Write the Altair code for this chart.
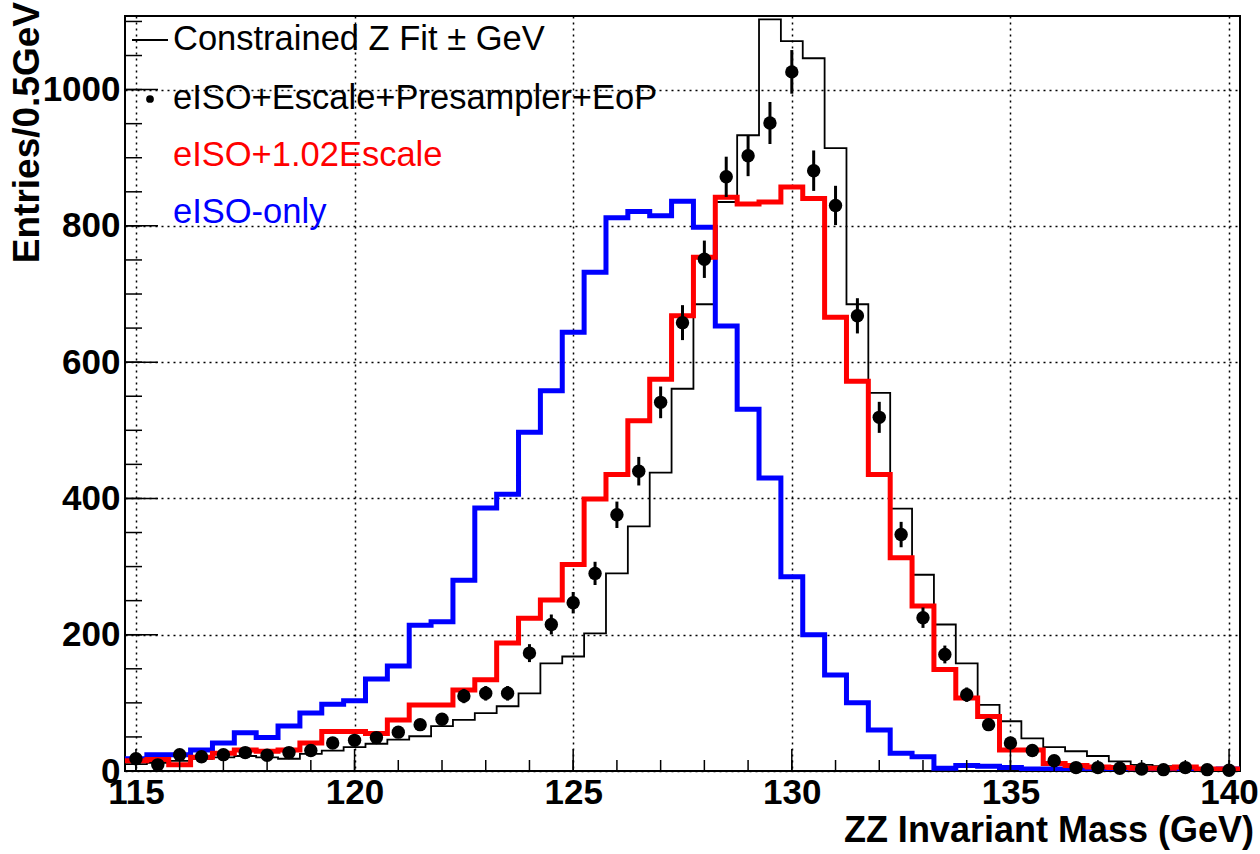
import altair as alt
import pandas as pd

# ---------------- data ----------------
bin_first = 115.0
bin_width = 0.5
n_bins = 51
centers = [bin_first + bin_width * i for i in range(n_bins)]

data_pts = [18, 9, 24, 21, 24, 27, 23, 27, 30, 41,
            45, 49, 57, 68, 76, 110, 114, 114, 173, 215,
            247, 290, 376, 440, 541, 658, 751, 872, 903, 951,
            1026, 881, 830, 668, 519, 347, 225, 171, 112, 68,
            41, 30, 15, 5, 5, 4, 3, 2, 5, 2, 1]

constrained = [10, 12, 15, 18, 20, 22, 20, 18, 25, 30,
               35, 40, 46, 51, 66, 75, 85, 95, 114, 158,
               168, 202, 290, 359, 438, 561, 685, 835, 933, 1103,
               1071, 1046, 914, 685, 555, 385, 288, 215, 158, 97,
               73, 48, 35, 29, 22, 14, 9, 7, 4, 3, 2]

escale102 = [15, 17, 9, 20, 26, 31, 29, 31, 41, 58,
             58, 55, 75, 97, 97, 119, 134, 188, 224, 251,
             303, 399, 435, 514, 575, 668, 754, 842, 832, 835,
             857, 840, 666, 572, 435, 313, 242, 149, 107, 80,
             31, 31, 11, 8, 6, 5, 4, 4, 6, 3, 3]

iso_only = [18, 24, 24, 31, 41, 56, 49, 66, 85, 98,
            103, 135, 154, 214, 219, 280, 386, 406, 497, 558,
            644, 732, 812, 821, 815, 836, 798, 653, 531, 430,
            285, 200, 141, 100, 60, 26, 21, 4, 8, 7,
            5, 3, 3, 2, 2, 2, 2, 2, 2, 2, 3]

legend_labels = ["Constrained Z Fit \u00b1 GeV",
                 "eISO+Escale+Presampler+EoP",
                 "eISO+1.02Escale",
                 "eISO-only"]
legend_colors = ["#000000", "#000000", "#ff0000", "#0000ff"]

x_title = "ZZ Invariant Mass (GeV)"
y_title = "Entries/0.5GeV"

x_major = [115, 120, 125, 130, 135, 140]
x_minor = [115 + i for i in range(26)]
y_major = [0, 200, 400, 600, 800, 1000]
y_minor = [50 * i for i in range(23)]

x_domain = [114.75, 140.25]
y_domain = [0, 1108]

# ---------------- layout ----------------
W, H = 1115, 755
FONT = "Liberation Sans"

def steps(vals):
    xs = [c - bin_width / 2 for c in centers] + [centers[-1] + bin_width / 2]
    ys = list(vals) + [vals[-1]]
    return pd.DataFrame({"x": xs, "y": ys})

xs = alt.Scale(domain=x_domain, nice=False, zero=False)
ys = alt.Scale(domain=y_domain, nice=False)

axis_common = dict(title=None, ticks=False, domain=False,
                   grid=True, gridDash=[2, 4], gridColor="black", gridWidth=1.5,
                   labelFont=FONT, labelFontWeight="bold", labelFontSize=35,
                   labelColor="black", labelFlush=False, labelOverlap=False,
                   format="d")

axis_df = pd.DataFrame({"x": [x_domain[0]], "y": [0]})
base = alt.Chart(axis_df).mark_point(opacity=0).encode(
    x=alt.X("x:Q", scale=xs, axis=alt.Axis(values=x_major, labelPadding=4, **axis_common)),
    y=alt.Y("y:Q", scale=ys, axis=alt.Axis(values=y_major, labelPadding=5, **axis_common)),
)

def hist_layer(vals, color, width):
    return alt.Chart(steps(vals)).mark_line(
        interpolate="step-after", color=color, strokeWidth=width, clip=True
    ).encode(x=alt.X("x:Q", scale=xs), y=alt.Y("y:Q", scale=ys))

black_hist = hist_layer(constrained, "#000000", 1.8)
blue_hist = hist_layer(iso_only, "#0000ff", 5)
red_hist = hist_layer(escale102, "#ff0000", 5)

pts_df = pd.DataFrame({"x": centers, "y": data_pts})
err = alt.Chart(pts_df).transform_calculate(
    lo="datum.y - sqrt(datum.y)", hi="datum.y + sqrt(datum.y)"
).mark_rule(color="black", strokeWidth=3).encode(
    x=alt.X("x:Q", scale=xs), y=alt.Y("lo:Q", scale=ys), y2="hi:Q")
dots = alt.Chart(pts_df).mark_point(filled=True, shape="circle", size=180,
                                    color="black", opacity=1).encode(
    x=alt.X("x:Q", scale=xs), y=alt.Y("y:Q", scale=ys))

# inside ticks
xmaj = alt.Chart(pd.DataFrame({"x": x_major})).mark_rule(color="black", strokeWidth=1.5).encode(
    x=alt.X("x:Q", scale=xs), y=alt.value(H), y2=alt.value(H - 22))
xmin = alt.Chart(pd.DataFrame({"x": x_minor})).mark_rule(color="black", strokeWidth=1.5).encode(
    x=alt.X("x:Q", scale=xs), y=alt.value(H), y2=alt.value(H - 11))
ymaj = alt.Chart(pd.DataFrame({"y": y_major})).mark_rule(color="black", strokeWidth=1.5).encode(
    y=alt.Y("y:Q", scale=ys), x=alt.value(0), x2=alt.value(33))
ymin = alt.Chart(pd.DataFrame({"y": y_minor})).mark_rule(color="black", strokeWidth=1.5).encode(
    y=alt.Y("y:Q", scale=ys), x=alt.value(0), x2=alt.value(17))

# legend
leg_df = pd.DataFrame({"label": legend_labels, "color": legend_colors,
                       "ypix": [24, 83, 140, 197]})
leg_text = alt.Chart(leg_df).mark_text(
    font=FONT, fontSize=34.5, align="left", baseline="middle"
).encode(x=alt.value(48), y=alt.Y("ypix:Q", scale=None),
         text="label:N", color=alt.Color("color:N", scale=None))
leg_line = alt.Chart(leg_df.iloc[[0]]).mark_rule(color="black", strokeWidth=2).encode(
    x=alt.value(7), x2=alt.value(43), y=alt.Y("ypix:Q", scale=None))
leg_dot = alt.Chart(leg_df.iloc[[1]]).mark_point(filled=True, shape="circle", size=60,
                                                 color="black", opacity=1).encode(
    x=alt.value(25), y=alt.Y("ypix:Q", scale=None))

# titles
title_df = pd.DataFrame({"t": [x_title]})
xt = alt.Chart(title_df).mark_text(
    font=FONT, fontSize=36, fontWeight="bold", align="right", baseline="alphabetic",
    color="black").encode(x=alt.value(1129), y=alt.value(826), text="t:N")
ytitle_df = pd.DataFrame({"t": [y_title]})
yt = alt.Chart(ytitle_df).mark_text(
    font=FONT, fontSize=37, fontWeight="bold", align="right", baseline="middle",
    angle=270, color="black").encode(x=alt.value(-97), y=alt.value(-14), text="t:N")

chart = alt.layer(
    base, black_hist, blue_hist, red_hist, err, dots,
    xmaj, xmin, ymaj, ymin, leg_line, leg_dot, leg_text, xt, yt
).properties(
    width=W, height=H,
    autosize=alt.AutoSizeParams(type="none"),
    padding={"left": 125, "top": 16, "right": 20, "bottom": 83},
    background="white",
).configure_view(stroke="black", strokeWidth=2)

chart.save("out.html", embed_options={"renderer": "svg", "actions": False})
